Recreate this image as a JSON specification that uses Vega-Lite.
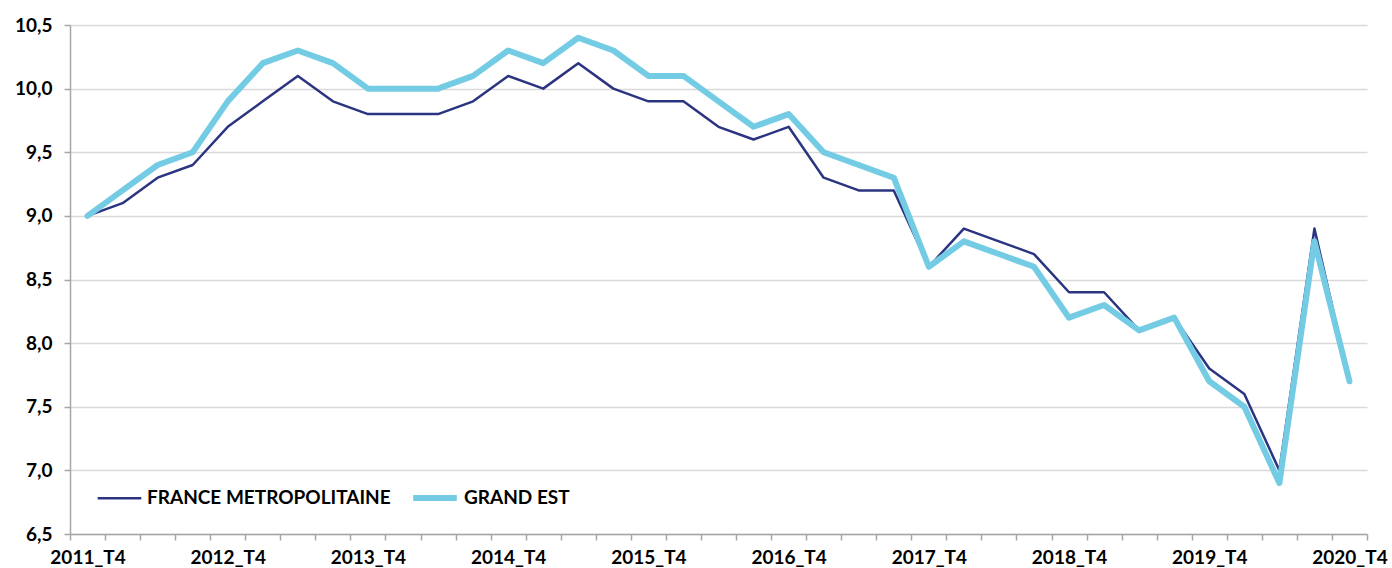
{
  "$schema": "https://vega.github.io/schema/vega-lite/v6.json",
  "width": 1297,
  "height": 509,
  "autosize": {"type": "none"},
  "padding": {"left": 70, "top": 25, "right": 25, "bottom": 34},
  "config": {
    "view": {"stroke": null},
    "font": "Lato"
  },
  "data": {
    "values": [
      {"trimestre": "2011_T4", "serie": "FRANCE METROPOLITAINE", "taux": 9.0},
      {"trimestre": "2012_T1", "serie": "FRANCE METROPOLITAINE", "taux": 9.1},
      {"trimestre": "2012_T2", "serie": "FRANCE METROPOLITAINE", "taux": 9.3},
      {"trimestre": "2012_T3", "serie": "FRANCE METROPOLITAINE", "taux": 9.4},
      {"trimestre": "2012_T4", "serie": "FRANCE METROPOLITAINE", "taux": 9.7},
      {"trimestre": "2013_T1", "serie": "FRANCE METROPOLITAINE", "taux": 9.9},
      {"trimestre": "2013_T2", "serie": "FRANCE METROPOLITAINE", "taux": 10.1},
      {"trimestre": "2013_T3", "serie": "FRANCE METROPOLITAINE", "taux": 9.9},
      {"trimestre": "2013_T4", "serie": "FRANCE METROPOLITAINE", "taux": 9.8},
      {"trimestre": "2014_T1", "serie": "FRANCE METROPOLITAINE", "taux": 9.8},
      {"trimestre": "2014_T2", "serie": "FRANCE METROPOLITAINE", "taux": 9.8},
      {"trimestre": "2014_T3", "serie": "FRANCE METROPOLITAINE", "taux": 9.9},
      {"trimestre": "2014_T4", "serie": "FRANCE METROPOLITAINE", "taux": 10.1},
      {"trimestre": "2015_T1", "serie": "FRANCE METROPOLITAINE", "taux": 10.0},
      {"trimestre": "2015_T2", "serie": "FRANCE METROPOLITAINE", "taux": 10.2},
      {"trimestre": "2015_T3", "serie": "FRANCE METROPOLITAINE", "taux": 10.0},
      {"trimestre": "2015_T4", "serie": "FRANCE METROPOLITAINE", "taux": 9.9},
      {"trimestre": "2016_T1", "serie": "FRANCE METROPOLITAINE", "taux": 9.9},
      {"trimestre": "2016_T2", "serie": "FRANCE METROPOLITAINE", "taux": 9.7},
      {"trimestre": "2016_T3", "serie": "FRANCE METROPOLITAINE", "taux": 9.6},
      {"trimestre": "2016_T4", "serie": "FRANCE METROPOLITAINE", "taux": 9.7},
      {"trimestre": "2017_T1", "serie": "FRANCE METROPOLITAINE", "taux": 9.3},
      {"trimestre": "2017_T2", "serie": "FRANCE METROPOLITAINE", "taux": 9.2},
      {"trimestre": "2017_T3", "serie": "FRANCE METROPOLITAINE", "taux": 9.2},
      {"trimestre": "2017_T4", "serie": "FRANCE METROPOLITAINE", "taux": 8.6},
      {"trimestre": "2018_T1", "serie": "FRANCE METROPOLITAINE", "taux": 8.9},
      {"trimestre": "2018_T2", "serie": "FRANCE METROPOLITAINE", "taux": 8.8},
      {"trimestre": "2018_T3", "serie": "FRANCE METROPOLITAINE", "taux": 8.7},
      {"trimestre": "2018_T4", "serie": "FRANCE METROPOLITAINE", "taux": 8.4},
      {"trimestre": "2019_T1", "serie": "FRANCE METROPOLITAINE", "taux": 8.4},
      {"trimestre": "2019_T2", "serie": "FRANCE METROPOLITAINE", "taux": 8.1},
      {"trimestre": "2019_T3", "serie": "FRANCE METROPOLITAINE", "taux": 8.2},
      {"trimestre": "2019_T4", "serie": "FRANCE METROPOLITAINE", "taux": 7.8},
      {"trimestre": "2020_T1", "serie": "FRANCE METROPOLITAINE", "taux": 7.6},
      {"trimestre": "2020_T2", "serie": "FRANCE METROPOLITAINE", "taux": 7.0},
      {"trimestre": "2020_T3", "serie": "FRANCE METROPOLITAINE", "taux": 8.9},
      {"trimestre": "2020_T4", "serie": "FRANCE METROPOLITAINE", "taux": 7.7},
      {"trimestre": "2011_T4", "serie": "GRAND EST", "taux": 9.0},
      {"trimestre": "2012_T1", "serie": "GRAND EST", "taux": 9.2},
      {"trimestre": "2012_T2", "serie": "GRAND EST", "taux": 9.4},
      {"trimestre": "2012_T3", "serie": "GRAND EST", "taux": 9.5},
      {"trimestre": "2012_T4", "serie": "GRAND EST", "taux": 9.9},
      {"trimestre": "2013_T1", "serie": "GRAND EST", "taux": 10.2},
      {"trimestre": "2013_T2", "serie": "GRAND EST", "taux": 10.3},
      {"trimestre": "2013_T3", "serie": "GRAND EST", "taux": 10.2},
      {"trimestre": "2013_T4", "serie": "GRAND EST", "taux": 10.0},
      {"trimestre": "2014_T1", "serie": "GRAND EST", "taux": 10.0},
      {"trimestre": "2014_T2", "serie": "GRAND EST", "taux": 10.0},
      {"trimestre": "2014_T3", "serie": "GRAND EST", "taux": 10.1},
      {"trimestre": "2014_T4", "serie": "GRAND EST", "taux": 10.3},
      {"trimestre": "2015_T1", "serie": "GRAND EST", "taux": 10.2},
      {"trimestre": "2015_T2", "serie": "GRAND EST", "taux": 10.4},
      {"trimestre": "2015_T3", "serie": "GRAND EST", "taux": 10.3},
      {"trimestre": "2015_T4", "serie": "GRAND EST", "taux": 10.1},
      {"trimestre": "2016_T1", "serie": "GRAND EST", "taux": 10.1},
      {"trimestre": "2016_T2", "serie": "GRAND EST", "taux": 9.9},
      {"trimestre": "2016_T3", "serie": "GRAND EST", "taux": 9.7},
      {"trimestre": "2016_T4", "serie": "GRAND EST", "taux": 9.8},
      {"trimestre": "2017_T1", "serie": "GRAND EST", "taux": 9.5},
      {"trimestre": "2017_T2", "serie": "GRAND EST", "taux": 9.4},
      {"trimestre": "2017_T3", "serie": "GRAND EST", "taux": 9.3},
      {"trimestre": "2017_T4", "serie": "GRAND EST", "taux": 8.6},
      {"trimestre": "2018_T1", "serie": "GRAND EST", "taux": 8.8},
      {"trimestre": "2018_T2", "serie": "GRAND EST", "taux": 8.7},
      {"trimestre": "2018_T3", "serie": "GRAND EST", "taux": 8.6},
      {"trimestre": "2018_T4", "serie": "GRAND EST", "taux": 8.2},
      {"trimestre": "2019_T1", "serie": "GRAND EST", "taux": 8.3},
      {"trimestre": "2019_T2", "serie": "GRAND EST", "taux": 8.1},
      {"trimestre": "2019_T3", "serie": "GRAND EST", "taux": 8.2},
      {"trimestre": "2019_T4", "serie": "GRAND EST", "taux": 7.7},
      {"trimestre": "2020_T1", "serie": "GRAND EST", "taux": 7.5},
      {"trimestre": "2020_T2", "serie": "GRAND EST", "taux": 6.9},
      {"trimestre": "2020_T3", "serie": "GRAND EST", "taux": 8.8},
      {"trimestre": "2020_T4", "serie": "GRAND EST", "taux": 7.7}
    ]
  },
  "mark": {"type": "line", "strokeJoin": "round", "strokeCap": "round"},
  "encoding": {
    "x": {
      "field": "trimestre",
      "type": "ordinal",
      "sort": null,
      "bandPosition": 0.5,
      "scale": {"type": "band", "paddingInner": 0, "paddingOuter": 0},
      "axis": {
        "title": null,
        "tickBand": "extent",
        "labelAngle": 0,
        "labelOverlap": false,
        "labelExpr": "indexof(datum.label, '_T4') >= 0 ? datum.label : ''",
        "labelFont": "Lato",
        "labelFontSize": 19,
        "labelFontWeight": "bold",
        "labelColor": "#000000",
        "labelPadding": 8,
        "domainColor": "#A6A6A6",
        "domainWidth": 1.5,
        "tickColor": "#A6A6A6",
        "tickWidth": 1.5,
        "tickSize": 6,
        "grid": false
      }
    },
    "y": {
      "field": "taux",
      "type": "quantitative",
      "scale": {"domain": [6.5, 10.5], "nice": false, "zero": false},
      "axis": {
        "title": null,
        "values": [6.5, 7, 7.5, 8, 8.5, 9, 9.5, 10, 10.5],
        "labelExpr": "replace(format(datum.value, '.1f'), '.', ',')",
        "labelFont": "Lato",
        "labelFontSize": 19,
        "labelFontWeight": "bold",
        "labelColor": "#000000",
        "labelPadding": 12,
        "domainColor": "#A6A6A6",
        "domainWidth": 1.5,
        "tickColor": "#A6A6A6",
        "tickWidth": 1.5,
        "tickSize": 6,
        "grid": true,
        "gridColor": "#D9D9D9",
        "gridWidth": 1.5
      }
    },
    "color": {
      "field": "serie",
      "type": "nominal",
      "scale": {
        "domain": ["FRANCE METROPOLITAINE", "GRAND EST"],
        "range": ["#2B3481", "#74CCE4"]
      },
      "legend": {
        "title": null,
        "orient": "none",
        "direction": "horizontal",
        "legendX": 26,
        "legendY": 448,
        "symbolType": "stroke",
        "symbolSize": 1900,
        "labelFont": "Lato",
        "labelFontSize": 19,
        "labelFontWeight": "bold",
        "labelLimit": 0,
        "labelColor": "#000000",
        "labelOffset": 4,
        "columnPadding": 10
      }
    },
    "strokeWidth": {
      "field": "serie",
      "type": "nominal",
      "scale": {
        "domain": ["FRANCE METROPOLITAINE", "GRAND EST"],
        "range": [2.5, 6]
      },
      "legend": null
    }
  }
}
